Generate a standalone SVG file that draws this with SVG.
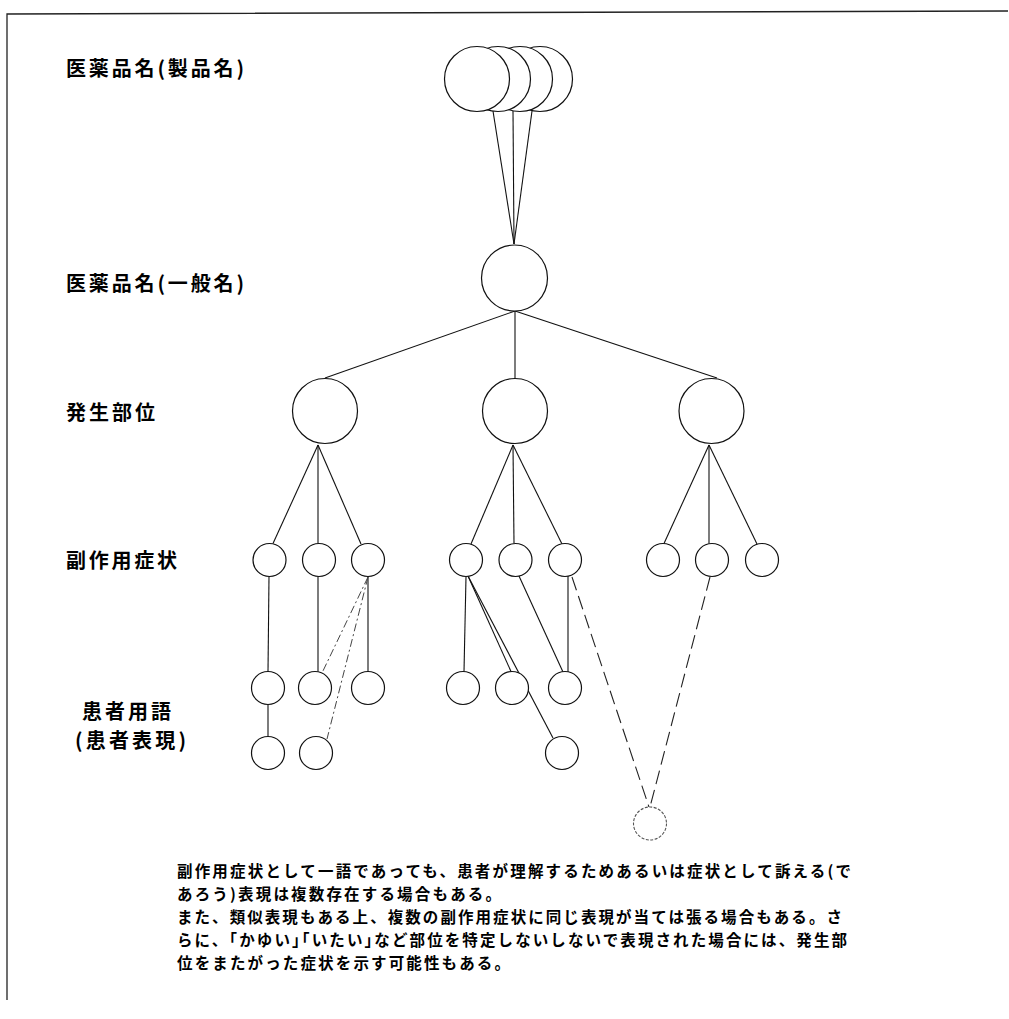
<svg xmlns="http://www.w3.org/2000/svg" width="1009" height="1019" viewBox="0 0 1009 1019">
<style>
.n{fill:#fff;stroke:#111;stroke-width:1.2}
.c{stroke:#111;stroke-width:1.1;fill:none}
.dd{stroke:#444;stroke-width:1;fill:none;stroke-dasharray:8 3 2 3}
.da{stroke:#222;stroke-width:1.1;fill:none;stroke-dasharray:14 6}
.lbl{font-family:"Noto Sans CJK JP","Noto Sans CJK SC",sans-serif;font-weight:bold;font-size:20px;fill:#000}
.txt{font-family:"Noto Sans CJK JP","Noto Sans CJK SC",sans-serif;font-weight:bold;font-size:15.5px;fill:#000}
</style>
<rect width="1009" height="1019" fill="#fff"/>
<path d="M7,1000 L7,14 L1008,11" stroke="#222" stroke-width="1.3" fill="none"/>
<g id="labels">
<text class="lbl" x="66" y="76" textLength="178" lengthAdjust="spacing">医薬品名(製品名)</text>
<text class="lbl" x="66" y="291" textLength="178" lengthAdjust="spacing">医薬品名(一般名)</text>
<text class="lbl" x="66" y="420" textLength="89" lengthAdjust="spacing">発生部位</text>
<text class="lbl" x="66" y="568" textLength="111" lengthAdjust="spacing">副作用症状</text>
<text class="lbl" x="82" y="719" textLength="89" lengthAdjust="spacing">患者用語</text>
<text class="lbl" x="75" y="748" textLength="111" lengthAdjust="spacing">(患者表現)</text>
</g>
<g id="connectors">
<line class="c" x1="493" y1="111" x2="514" y2="244"/>
<line class="c" x1="513" y1="111" x2="514" y2="244"/>
<line class="c" x1="532" y1="111" x2="514" y2="244"/>
<line class="c" x1="515" y1="311" x2="325" y2="378"/>
<line class="c" x1="515" y1="311" x2="515" y2="378"/>
<line class="c" x1="515" y1="311" x2="717" y2="378"/>
<line class="c" x1="318" y1="445" x2="273" y2="543.5"/>
<line class="c" x1="318" y1="445" x2="318" y2="543.5"/>
<line class="c" x1="318" y1="445" x2="361" y2="544"/>
<line class="c" x1="513" y1="445" x2="471" y2="544"/>
<line class="c" x1="513" y1="445" x2="514" y2="543.5"/>
<line class="c" x1="513" y1="445" x2="562" y2="544"/>
<line class="c" x1="709" y1="445" x2="664" y2="543.5"/>
<line class="c" x1="709" y1="445" x2="709" y2="543.5"/>
<line class="c" x1="709" y1="445" x2="757" y2="544"/>
<line class="c" x1="269" y1="576.5" x2="268" y2="671.5"/>
<line class="c" x1="318" y1="576.5" x2="318" y2="671.5"/>
<line class="c" x1="368" y1="576.5" x2="368" y2="671.5"/>
<line class="c" x1="466" y1="576.5" x2="464" y2="671.5"/>
<line class="c" x1="468" y1="576" x2="511" y2="671.5"/>
<line class="c" x1="468" y1="576" x2="553" y2="738"/>
<line class="c" x1="519" y1="576" x2="563" y2="672"/>
<line class="c" x1="568" y1="576" x2="568" y2="672"/>
<line class="c" x1="268" y1="704.5" x2="268" y2="736.5"/>
<line class="dd" x1="368" y1="577" x2="322" y2="673"/>
<line class="dd" x1="368" y1="577" x2="327" y2="739"/>
<line class="da" x1="572" y1="577" x2="649" y2="807"/>
<line class="da" x1="710" y1="577" x2="650" y2="807"/>
</g>
<g id="product">
<circle class="n" cx="540" cy="79" r="32.5"/>
<circle class="n" cx="520" cy="79" r="32.5"/>
<circle class="n" cx="498" cy="79" r="32.5"/>
<circle class="n" cx="477" cy="79" r="32.5"/>
</g>
<g id="generic"><circle class="n" cx="514.5" cy="278" r="33"/></g>
<g id="site1"><circle class="n" cx="325" cy="411" r="32.5"/></g>
<g id="site2"><circle class="n" cx="515" cy="411" r="32.5"/></g>
<g id="site3"><circle class="n" cx="711.5" cy="411" r="32.5"/></g>
<g id="symptoms">
<circle class="n" cx="269.5" cy="560" r="16.5"/>
<circle class="n" cx="319" cy="560" r="16.5"/>
<circle class="n" cx="368" cy="560" r="16.5"/>
<circle class="n" cx="466" cy="560" r="16.5"/>
<circle class="n" cx="515.5" cy="560" r="16.5"/>
<circle class="n" cx="565" cy="560" r="16.5"/>
<circle class="n" cx="663" cy="560" r="16.5"/>
<circle class="n" cx="712" cy="560" r="16.5"/>
<circle class="n" cx="762" cy="560" r="16.5"/>
</g>
<g id="patient">
<circle class="n" cx="268" cy="688" r="16.5"/>
<circle class="n" cx="315" cy="688" r="16.5"/>
<circle class="n" cx="368" cy="688" r="16.5"/>
<circle class="n" cx="463" cy="688" r="16.5"/>
<circle class="n" cx="512" cy="688" r="16.5"/>
<circle class="n" cx="565" cy="688" r="16.5"/>
<circle class="n" cx="268" cy="753" r="16.5"/>
<circle class="n" cx="316" cy="753" r="16.5"/>
<circle class="n" cx="562" cy="753" r="16.5"/>
</g>
<g id="shared"><circle cx="650" cy="823.5" r="16.5" fill="#fff" stroke="#555" stroke-width="1.1" stroke-dasharray="3 1.5"/></g>
<g id="note">
<text class="txt" x="177" y="877" textLength="674" lengthAdjust="spacing">副作用症状として一語であっても、患者が理解するためあるいは症状として訴える(で</text>
<text class="txt" x="177" y="900" textLength="324" lengthAdjust="spacing">あろう)表現は複数存在する場合もある。</text>
<text class="txt" x="177" y="923" textLength="665" lengthAdjust="spacing">また、類似表現もある上、複数の副作用症状に同じ表現が当ては張る場合もある。さ</text>
<text class="txt" x="177" y="946" textLength="670" lengthAdjust="spacing">らに、｢かゆい｣｢いたい｣など部位を特定しないしないで表現された場合には、発生部</text>
<text class="txt" x="177" y="969" textLength="333" lengthAdjust="spacing">位をまたがった症状を示す可能性もある。</text>
</g>
</svg>
